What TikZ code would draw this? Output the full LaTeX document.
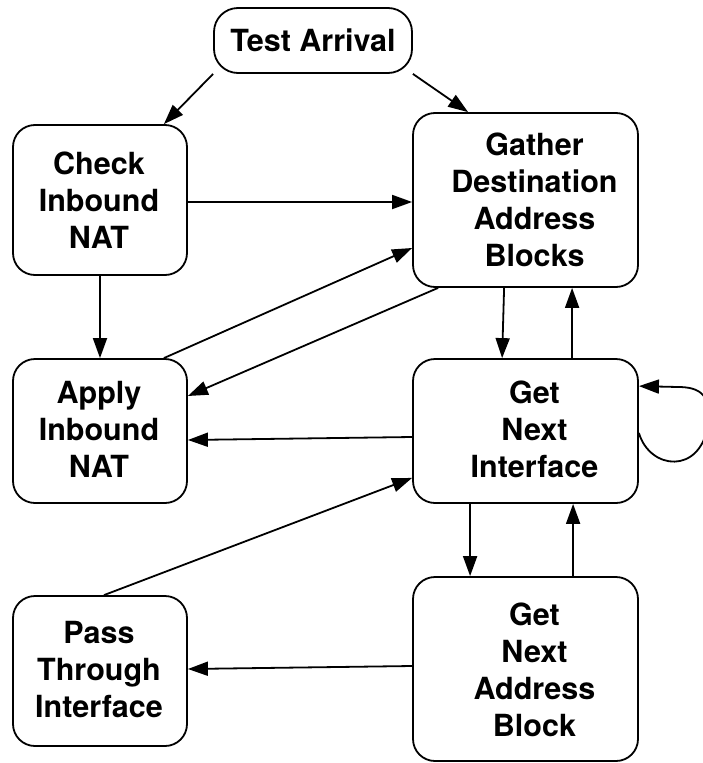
\documentclass[tikz,border=0pt]{standalone}
\usepackage{fontspec}
\setmainfont{TeX Gyre Heros}
\usetikzlibrary{arrows.meta,calc}
\begin{document}
\begin{tikzpicture}[x=1pt,y=-1pt,
  box/.style={draw,line width=1.8pt,rounded corners=22pt,inner sep=0pt},
  txt/.style={align=center,font=\fontsize{30.5}{37}\selectfont\bfseries,inner sep=0pt},
  arr/.style={line width=1.8pt,-{Triangle[length=20pt,width=14pt]}},
  ln/.style={line width=1.8pt}]
\fill[white] (0,0) rectangle (702,763);
\useasboundingbox (0,0) rectangle (702,763);
% boxes
\node[box,rounded corners=24pt,minimum width=198pt,minimum height=65pt] (ta) at (313,40.5) {};
\node[txt] (ta-t) at (313,40.5) {Test Arrival};
\node[box,minimum width=174pt,minimum height=150pt] (cin) at (100,200) {};
\node[txt] (cin-t) at (99,200) {Check\\Inbound\\NAT};
\node[box,minimum width=225pt,minimum height=174pt] (gdab) at (525.5,200) {};
\node[txt] (gdab-t) at (534.5,200) {Gather\\Destination\\Address\\Blocks};
\node[box,minimum width=174pt,minimum height=144pt] (ain) at (100,431) {};
\node[txt] (ain-t) at (99,429) {Apply\\Inbound\\NAT};
\node[box,minimum width=225pt,minimum height=144pt] (gni) at (525.5,431) {};
\node[txt] (gni-t) at (534.5,429) {Get\\Next\\Interface};
\node[box,minimum width=174pt,minimum height=150pt] (pti) at (100,671) {};
\node[txt] (pti-t) at (99,670) {Pass\\Through\\Interface};
\node[box,minimum width=225pt,minimum height=184pt] (gnab) at (525.5,669) {};
\node[txt] (gnab-t) at (534.5,670) {Get\\Next\\Address\\Block};
% connectors
\draw[arr] (ta.south west) -- ($(cin.north east)+(-24,0)$);
\draw[arr] (ta.south east) -- ($(gdab.north west)+(56,0)$);
\draw[arr] ($(cin.east)+(0,2)$) -- ($(gdab.west)+(0,2)$);
\draw[arr] (cin.south) -- (ain.north);
\draw[arr] ($(ain.north east)+(-24,0)$) -- ($(gdab.west)+(0,48)$);
\draw[arr] ($(gdab.south west)+(26,0)$) -- ($(ain.east)+(0,-35)$);
\draw[arr] ($(gdab.south west)+(92,0)$) -- ($(gni.north west)+(90,0)$);
\draw[arr] ($(gni.north west)+(160,0)$) -- ($(gdab.south west)+(160,0)$);
\draw[arr] ($(gni.west)+(0,6)$) -- ($(ain.east)+(0,9)$);
\coordinate (loopa) at ($(gni.east)+(0,2)$);
\coordinate (loopb) at ($(gni.north east)+(0,28)$);
\draw[arr] (loopa) .. controls +(11,37) and (700,475) .. (708,425)
  .. controls (712,395) and (700,387) .. (678,387) -- (loopb);
\draw[arr] ($(pti.north)+(4,0)$) -- ($(gni.south west)+(0,-26)$);
\draw[arr] ($(gni.south west)+(58,0)$) -- ($(gnab.north west)+(58,0)$);
\draw[arr] ($(gnab.north west)+(161,0)$) -- ($(gni.south west)+(161,0)$);
\draw[arr] ($(gnab.west)+(0,-3)$) -- ($(pti.east)+(0,-2)$);
\end{tikzpicture}
\end{document}
